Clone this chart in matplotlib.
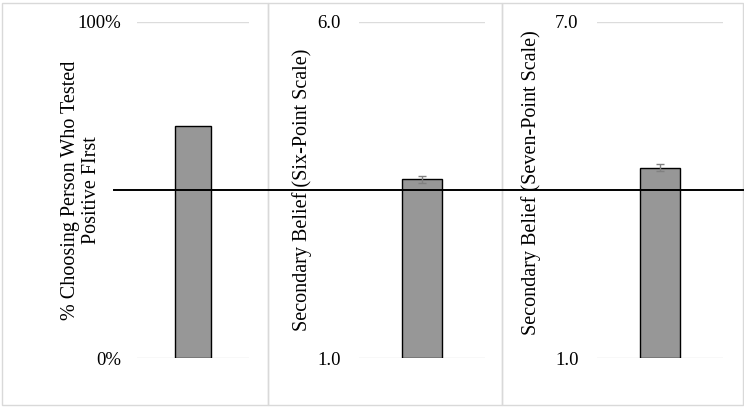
import matplotlib
matplotlib.use("Agg")
import matplotlib.pyplot as plt
from matplotlib.patches import Rectangle
from matplotlib.transforms import blended_transform_factory

plt.rcParams['font.family'] = ['Liberation Serif', 'DejaVu Serif']
plt.rcParams['font.size'] = 13.5

# data
pct_value = [0.69]
six_value = [3.66]
six_err = [0.05]
seven_value = [4.40]
seven_err = [0.066]

y_limits = [(0.0, 1.0), (1.0, 6.0), (1.0, 7.0)]
tick_labels = [['0%', '100%'], ['1.0', '6.0'], ['1.0', '7.0']]
y_labels = ['% Choosing Person Who Tested\nPositive FIrst',
            'Secondary Belief (Six-Point Scale)',
            'Secondary Belief (Seven-Point Scale)']
ref_value = 0.5  # midpoint line, drawn on the first panel's scale

W, H = 744, 407
fig = plt.figure(figsize=(W / 100, H / 100), dpi=100)

def fx(px):
    return px / W

def fy(py):
    return 1 - py / H

# panel frames
for x0, x1 in [(2, 268), (268, 501.5), (501.5, 743)]:
    fig.patches.append(Rectangle((fx(x0), fy(405)), fx(x1 - x0), (405 - 2.5) / H,
                                 transform=fig.transFigure, fill=False,
                                 edgecolor='#d9d9d9', lw=1))

top, bottom = 21.7, 358.3
axes_px = [(137, 249), (359, 485), (596.7, 722.7)]
axes = []
for (x0, x1) in axes_px:
    ax = fig.add_axes([fx(x0), fy(bottom), fx(x1 - x0), (bottom - top) / H])
    axes.append(ax)

bar_kw = dict(width=0.315, color='#979797', edgecolor='black', linewidth=1, zorder=2)
err_kw = dict(ecolor='#808080', elinewidth=1, capsize=3, capthick=1)

axes[0].bar([0], pct_value, **bar_kw)
axes[1].bar([0], [v - 1 for v in six_value], bottom=1, yerr=six_err, error_kw=err_kw, **bar_kw)
axes[2].bar([0], [v - 1 for v in seven_value], bottom=1, yerr=seven_err, error_kw=err_kw, **bar_kw)

label_pos = [(-0.50, 0.5), (-0.452, 0.5), (-0.521, 0.522)]
pads = [11.5, 13, 13]
for i, ax in enumerate(axes):
    lo, hi = y_limits[i]
    ax.set_xlim(-0.5, 0.5)
    ax.set_ylim(lo, hi)
    ax.set_yticks([lo, hi])
    ax.set_yticklabels(tick_labels[i])
    ax.set_xticks([])
    ax.tick_params(axis='y', length=0, pad=pads[i])
    for s in ax.spines.values():
        s.set_visible(False)
    ax.yaxis.grid(True, color='#dcdcdc', lw=1)
    ax.set_axisbelow(True)
    ax.patch.set_visible(False)
    ax.set_ylabel(y_labels[i], va='center', ha='center', multialignment='center',
                  fontsize=14.5, linespacing=1.15)
    ax.yaxis.set_label_coords(*label_pos[i])

# reference line across all panels
tr = blended_transform_factory(fig.transFigure, axes[0].transData)
fig.lines.append(plt.Line2D([fx(114), fx(743)], [ref_value, ref_value],
                            transform=tr, color='black', lw=1.4, zorder=5))

fig.savefig('out.png', dpi=100)
